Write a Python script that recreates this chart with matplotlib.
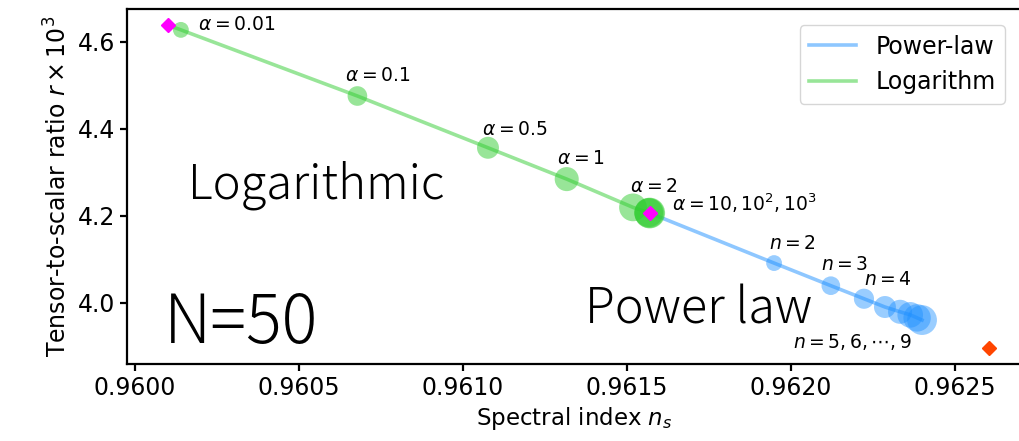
import matplotlib
matplotlib.use("Agg")
import matplotlib.pyplot as plt

# logarithmic model: alpha = 0.01, 0.1, 0.5, 1, 2, 10, 100, 1000
log_alpha_labels = ["0.01", "0.1", "0.5", "1", "2"]
log_ns = [0.960140, 0.960678, 0.961076, 0.961316, 0.961518, 0.961566, 0.961568, 0.961569]
log_r = [4.627, 4.475, 4.356, 4.284, 4.219, 4.207, 4.206, 4.206]

# power-law model: n = 2 ... 9
pow_n = [2, 3, 4, 5, 6, 7, 8, 9]
pow_ns = [0.961948, 0.962121, 0.962222, 0.962286, 0.962332, 0.962363, 0.962384, 0.962399]
pow_r = [4.091, 4.039, 4.009, 3.990, 3.979, 3.972, 3.965, 3.960]

# limiting points (diamonds)
lim_small_alpha = (0.960100, 4.638)
lim_large_alpha = (0.961569, 4.206)
lim_large_n = (0.962604, 3.896)

# marker sizes (points^2)
log_sizes = [130, 200, 250, 300, 400, 430, 460, 490]
pow_sizes = [130, 180, 210, 250, 300, 340, 390, 460]

blue = "dodgerblue"
green = "limegreen"

fig = plt.figure(figsize=(10.19, 4.41), dpi=100)
ax = fig.add_axes([0.1244, 0.1746, 0.878, 0.806])

# lines
ax.plot([lim_large_alpha[0]] + pow_ns, [lim_large_alpha[1]] + pow_r,
        color=blue, alpha=0.5, lw=2.6, label="Power-law", zorder=2)
ax.plot([lim_small_alpha[0]] + log_ns, [lim_small_alpha[1]] + log_r,
        color=green, alpha=0.5, lw=2.6, label="Logarithm", zorder=2)

# points
ax.scatter(pow_ns, pow_r, s=pow_sizes, color=blue, alpha=0.45, lw=0, zorder=3)
ax.scatter(log_ns, log_r, s=log_sizes, color=green, alpha=0.5, lw=0, zorder=3)

ax.plot(*lim_small_alpha, marker="D", ms=7, color="magenta", ls="none", zorder=4)
ax.plot(*lim_large_alpha, marker="D", ms=7, color="magenta", ls="none", zorder=4)
ax.plot(*lim_large_n, marker="D", ms=7.5, color="orangered", ls="none", zorder=4)

# annotations
afs = 13.5
log_offsets = [(12, 4), (-9, 15), (-4, 13), (-7, 15), (-2, 15)]
for lab, x, y, off in zip(log_alpha_labels, log_ns, log_r, log_offsets):
    ax.annotate(r"$\alpha = %s$" % lab, (x, y), xytext=off, textcoords="offset points",
                ha="left", va="center", fontsize=afs)
ax.annotate(r"$\alpha = 10, 10^2, 10^3$", (log_ns[-1], log_r[-1]), xytext=(16, 7),
            textcoords="offset points", ha="left", va="center", fontsize=afs)
pow_offsets = [(-4, 14), (-7, 15), (0, 14)]
for n, x, y, off in zip(pow_n[:3], pow_ns, pow_r, pow_offsets):
    ax.annotate(r"$n = %d$" % n, (x, y), xytext=off, textcoords="offset points",
                ha="left", va="center", fontsize=afs)
ax.annotate(r"$n = 5, 6, \cdots, 9$", (pow_ns[-1], pow_r[-1]), xytext=(-7, -16),
            textcoords="offset points", ha="right", va="center", fontsize=afs)

# big labels
big_font = ["Noto Sans CJK JP", "DejaVu Sans"]
ax.text(0.0686, 0.467, "Logarithmic", transform=ax.transAxes, fontsize=34,
        family=big_font, weight="light", va="baseline")
ax.text(0.0410, 0.059, "N=50", transform=ax.transAxes, fontsize=48,
        family=big_font, weight="light", va="baseline")
ax.text(0.512, 0.115, "Power law", transform=ax.transAxes, fontsize=35,
        family=big_font, weight="light", va="baseline")

ax.set_xlim(0.959975, 0.962702)
ax.set_ylim(3.859, 4.676)
ax.set_xticks([0.9600, 0.9605, 0.9610, 0.9615, 0.9620, 0.9625])
ax.set_yticks([4.0, 4.2, 4.4, 4.6])
ax.set_xlabel(r"Spectral index $n_s$", fontsize=16.5)
ax.set_ylabel(r"Tensor-to-scalar ratio $r\times 10^3$", fontsize=17)
ax.tick_params(labelsize=17, width=1.6, length=5)
for sp in ax.spines.values():
    sp.set_linewidth(1.6)
ax.spines["right"].set_visible(False)

ax.legend(loc="upper right", fontsize=17, handlelength=2, borderaxespad=0.7)

fig.savefig("out.png", dpi=100)
